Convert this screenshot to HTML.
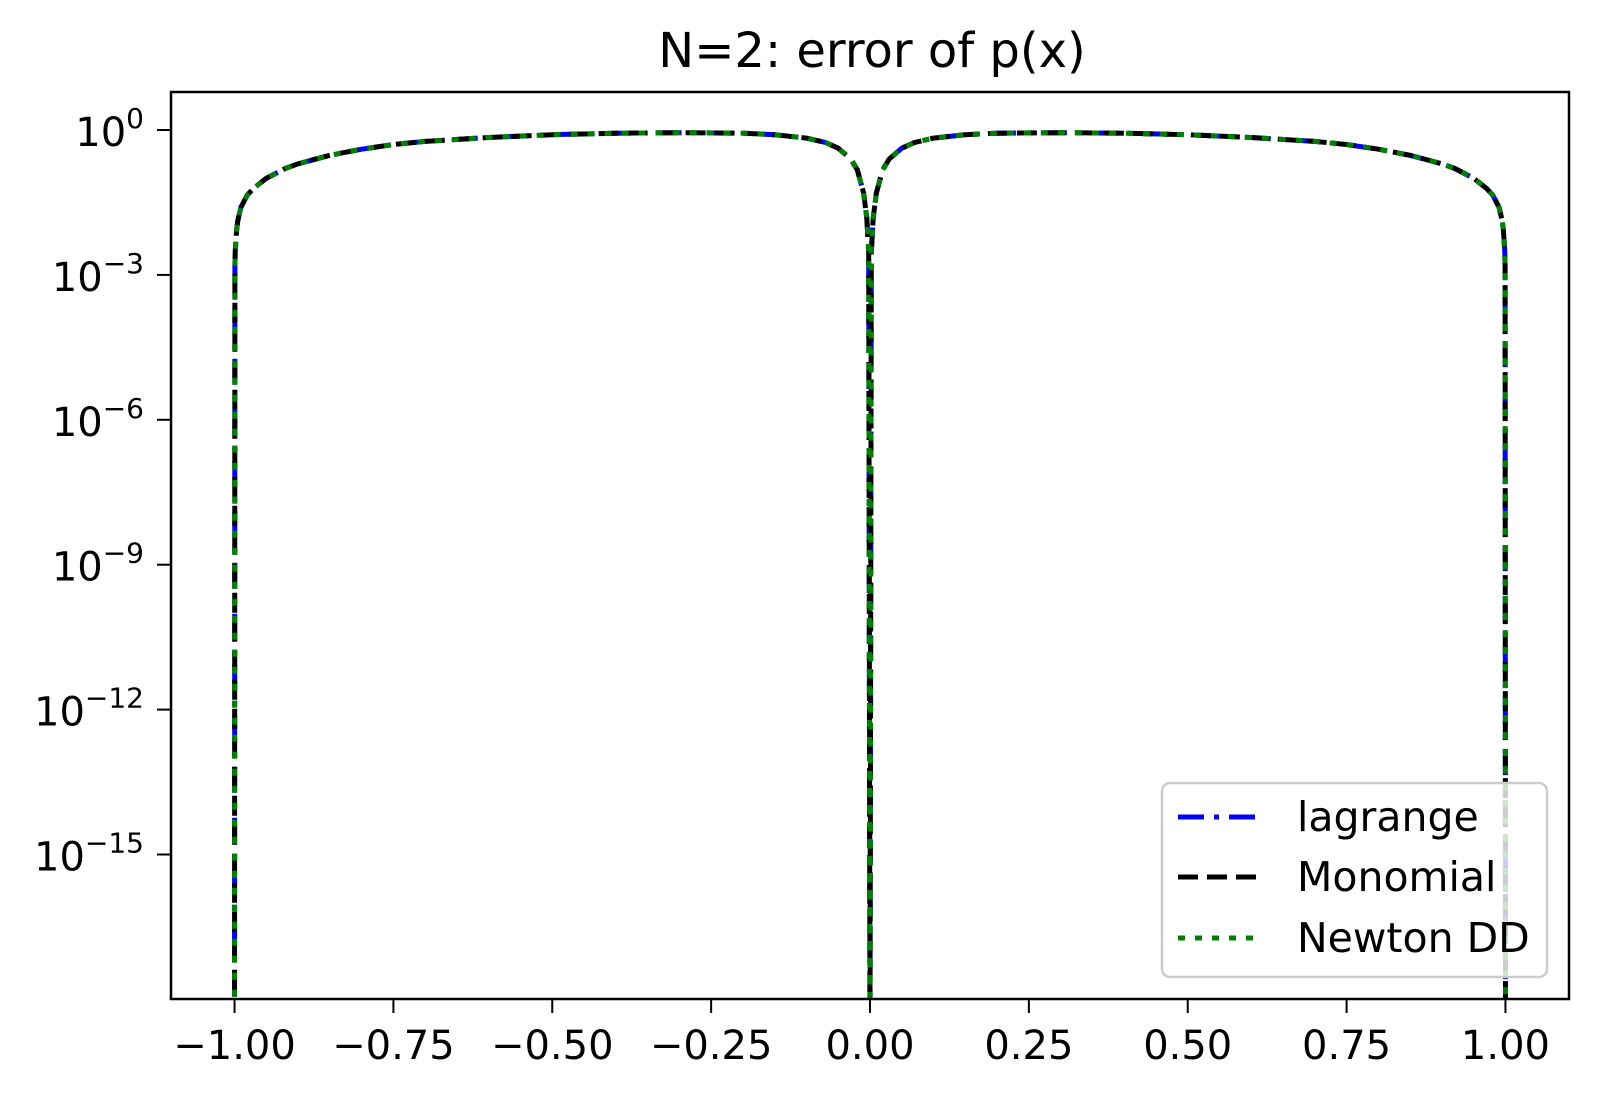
<!DOCTYPE html>
<html>
<head>
<meta charset="utf-8">
<style>
  html,body{margin:0;padding:0;background:#fff;}
  svg{display:block;font-family:"DejaVu Sans","Liberation Sans",sans-serif;}
</style>
</head>
<body>
<svg id="chart" width="1598" height="1098" viewBox="0 0 1598 1098" xmlns="http://www.w3.org/2000/svg">
  <rect x="0" y="0" width="1598" height="1098" fill="#fff"/>
  <text x="872" y="67" font-size="48" text-anchor="middle" fill="#000">N=2: error of p(x)</text>
  <defs><clipPath id="plotclip"><rect x="171" y="92" width="1398" height="907"/></clipPath></defs>
  <g id="series" clip-path="url(#plotclip)"></g>
  <rect x="171" y="92" width="1398" height="907" fill="none" stroke="#000" stroke-width="2.5"/>
  <g id="xticks"></g>
  <g id="yticks"></g>
  <g>
    <rect x="1162" y="783" width="385" height="194" rx="8" fill="#fff" fill-opacity="0.8" stroke="#ccc" stroke-width="2.5"/>
    <line x1="1178" y1="817" x2="1260" y2="817" stroke="#0000ff" stroke-width="5" stroke-dasharray="26,10,5,10"/>
    <text x="1297" y="831" font-size="41">lagrange</text>
    <line x1="1178" y1="877" x2="1260" y2="877" stroke="#000" stroke-width="5" stroke-dasharray="20,9"/>
    <text x="1297" y="891" font-size="41">Monomial</text>
    <line x1="1178" y1="938" x2="1260" y2="938" stroke="#008000" stroke-width="5" stroke-dasharray="7,10"/>
    <text x="1297" y="952" font-size="41">Newton DD</text>
  </g>
</svg>
<script>
const xs = [-1,-0.9995,-0.999,-0.997,-0.995,-0.99,-0.98,-0.97,-0.95,-0.92,-0.9,-0.85,-0.8,-0.75,-0.7,-0.6,-0.5,-0.4,-0.3,-0.2,-0.15,-0.1,-0.07,-0.05,-0.03,-0.02,-0.01,-0.005,-0.002,0,
            0.002,0.005,0.01,0.02,0.03,0.05,0.07,0.1,0.15,0.2,0.3,0.4,0.5,0.6,0.7,0.75,0.8,0.85,0.9,0.92,0.95,0.97,0.98,0.99,0.995,0.997,0.999,0.9995,1];
const errLagrange = [1e-19,0.0015,0.003,0.008,0.013,0.025,0.045,0.062,0.1,0.16,0.2,0.3,0.4,0.5,0.58,0.7,0.8,0.86,0.88,0.86,0.8,0.68,0.55,0.42,0.25,0.15,0.05,0.015,0.003,1e-19,
            0.003,0.015,0.05,0.15,0.25,0.42,0.55,0.68,0.8,0.86,0.88,0.86,0.8,0.7,0.58,0.5,0.4,0.3,0.2,0.16,0.1,0.062,0.045,0.025,0.013,0.008,0.003,0.0015,1e-19];
const errMonomial = errLagrange.slice();
const errNewton = errLagrange.slice();
const xTicks = [-1,-0.75,-0.5,-0.25,0,0.25,0.5,0.75,1];
const xTickLabels = ["\u22121.00","\u22120.75","\u22120.50","\u22120.25","0.00","0.25","0.50","0.75","1.00"];
const yTickExps = [0,-3,-6,-9,-12,-15];

const NS="http://www.w3.org/2000/svg";
const X0=171, X1=1569, XMIN=-1.1, XMAX=1.1;
const Y0PIX=130, PERDEC=48.3;
function sx(x){return X0+(x-XMIN)/(XMAX-XMIN)*(X1-X0);}
function sy(v){return Y0PIX-Math.log10(v)*PERDEC;}

const g=document.getElementById('series');
function drawSeries(vals,color,dash,name){
  const p=document.createElementNS(NS,'path');
  let d='';
  vals.forEach((v,i)=>{d+=(i?'L':'M')+sx(xs[i]).toFixed(1)+','+sy(v).toFixed(1);});
  p.setAttribute('d',d);
  p.setAttribute('fill','none');
  p.setAttribute('stroke',color);
  p.setAttribute('stroke-width','5');
  p.setAttribute('stroke-linejoin','round');
  p.setAttribute('stroke-dasharray',dash);
  
  
  g.appendChild(p);
}
drawSeries(errLagrange,'#0000ff','26,10,5,10','series-lagrange');
drawSeries(errMonomial,'#000000','20,9','series-monomial');
drawSeries(errNewton,'#008000','7,10','series-newton');

const xg=document.getElementById('xticks');
xTicks.forEach((t,i)=>{
  const x=sx(t);
  const l=document.createElementNS(NS,'line');
  l.setAttribute('x1',x);l.setAttribute('x2',x);l.setAttribute('y1',999);l.setAttribute('y2',1013);
  l.setAttribute('stroke','#000');l.setAttribute('stroke-width','2');
  
  
  xg.appendChild(l);
  const tx=document.createElementNS(NS,'text');
  tx.setAttribute('x',x);tx.setAttribute('y',1059);tx.setAttribute('font-size','40');tx.setAttribute('text-anchor','middle');
  tx.textContent=xTickLabels[i];
  
  
  xg.appendChild(tx);
});
const yg=document.getElementById('yticks');
yTickExps.forEach(e=>{
  const y=sy(Math.pow(10,e));
  const l=document.createElementNS(NS,'line');
  l.setAttribute('x1',157);l.setAttribute('x2',171);l.setAttribute('y1',y);l.setAttribute('y2',y);
  l.setAttribute('stroke','#000');l.setAttribute('stroke-width','2');
  
  
  yg.appendChild(l);
  const tx=document.createElementNS(NS,'text');
  tx.setAttribute('x',144);tx.setAttribute('y',y+16);tx.setAttribute('font-size','40');tx.setAttribute('text-anchor','end');
  const base=document.createElementNS(NS,'tspan');base.textContent='10';
  const sup=document.createElementNS(NS,'tspan');
  sup.setAttribute('dy','-18');sup.setAttribute('font-size','28');
  sup.textContent=(e<0?'\u2212'+(-e):String(e));
  tx.appendChild(base);tx.appendChild(sup);
  
  
  yg.appendChild(tx);
});
</script>
</body>
</html>
